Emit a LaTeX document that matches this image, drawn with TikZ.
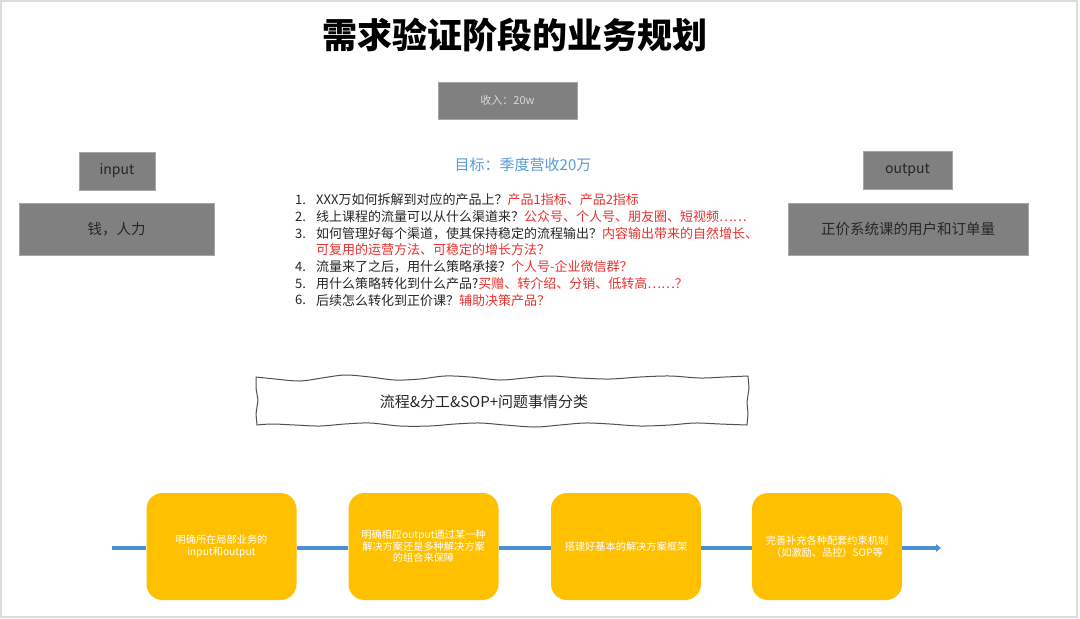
\documentclass[tikz,border=0pt]{standalone}
\usepackage{fontspec}
\setmainfont{Noto Sans CJK SC}
\usetikzlibrary{arrows.meta}
\definecolor{boxgray}{HTML}{808080}
\definecolor{boxedge}{HTML}{A6A6A6}
\definecolor{textdark}{HTML}{262626}
\definecolor{hlred}{HTML}{E8312F}
\definecolor{goalblue}{HTML}{5B9BD5}
\definecolor{lineblue}{HTML}{4A8FD8}
\definecolor{stepyellow}{HTML}{FFC000}
\definecolor{framegray}{HTML}{DCDCDC}
\definecolor{incometext}{HTML}{D9D9D9}
\tikzset{
  graybox/.style={draw=boxedge, fill=boxgray, line width=0.8pt, inner sep=0pt, text=textdark},
  listnum/.style={anchor=west, inner sep=0pt, text=textdark, font=\fontsize{13}{15}\selectfont},
  listline/.style={anchor=west, inner sep=0pt, text=textdark, font=\fontsize{13}{15}\selectfont},
  stepbox/.style={fill=stepyellow, rounded corners=16pt, minimum width=150pt, minimum height=107pt,
    inner sep=0pt, text=white, align=center, font=\fontsize{10.2}{11.5}\selectfont},
  flowline/.style={draw=lineblue, line width=3.8pt},
}
\begin{document}
\begin{tikzpicture}[x=1pt,y=-1pt]
\useasboundingbox (0,0) rectangle (1080,619);
\fill[white] (0,0) rectangle (1080,619);
\draw[framegray, line width=2pt] (1,1) rectangle (1077,617);

% title
\node[font=\fontsize{35}{40}\selectfont\bfseries, text=black, inner sep=0pt] (title) at (515,35) {需求验证阶段的业务规划};

% income box
\node[graybox, minimum width=139pt, minimum height=37pt, text=incometext, font=\fontsize{11}{13}\selectfont] (income) at (507.5,100.5) {收入：20w};

% input / output
\node[graybox, minimum width=76pt, minimum height=38pt, font=\fontsize{14}{16}\selectfont] (input) at (117,171) {input};
\node[graybox, minimum width=195pt, minimum height=52pt, font=\fontsize{14.5}{16}\selectfont] (money) at (116.5,229) {钱，人力};
\node[graybox, minimum width=89pt, minimum height=38pt, font=\fontsize{14}{16}\selectfont] (output) at (907.5,170) {output};
\node[graybox, minimum width=240pt, minimum height=52pt, font=\fontsize{14.5}{16}\selectfont] (result) at (908,229) {正价系统课的用户和订单量};

% goal
\node[text=goalblue, font=\fontsize{15}{18}\selectfont, inner sep=0pt] (goal) at (523,165) {目标：季度营收20万};

% list
\node[listnum] (n1) at (295,199.5) {1.};
\node[listline] (l1) at (316,199.5) {XXX万如何拆解到对应的产品上？\textcolor{hlred}{产品1指标、产品2指标}};
\node[listnum] (n2) at (295,216.5) {2.};
\node[listline] (l2) at (316,216.5) {线上课程的流量可以从什么渠道来？\textcolor{hlred}{公众号、个人号、朋友圈、短视频……}};
\node[listnum] (n3) at (295,233.5) {3.};
\node[listline] (l3) at (316,233.5) {如何管理好每个渠道，使其保持稳定的流程输出？\textcolor{hlred}{内容输出带来的自然增长、}};
\node[listline] (l3b) at (316,250) {\textcolor{hlred}{可复用的运营方法、可稳定的增长方法？}};
\node[listnum] (n4) at (295,266.8) {4.};
\node[listline] (l4) at (316,266.8) {流量来了之后，用什么策略承接？\textcolor{hlred}{个人号-企业微信群？}};
\node[listnum] (n5) at (295,283.5) {5.};
\node[listline] (l5) at (316,283.5) {用什么策略转化到什么产品?\textcolor{hlred}{买赠、转介绍、分销、低转高……？}};
\node[listnum] (n6) at (295,300.3) {6.};
\node[listline] (l6) at (316,300.3) {后续怎么转化到正价课？\textcolor{hlred}{辅助决策产品？}};

% wavy box
\draw[draw=textdark!80, line width=1pt, line join=round]
  plot[smooth, tension=0.55] coordinates {(256,377) (275,379) (300,381) (322,378) (345,375) (370,377) (395,380) (420,379) (445,376) (470,377) (500,380) (525,378) (550,376) (580,378) (610,379) (640,377) (670,376) (700,378) (725,377) (748,376)}
  -- (749,388) -- (747,402) -- (748,414) -- (747,425)
  -- plot[smooth, tension=0.55] coordinates {(747,425) (720,424) (695,423) (670,425) (640,426) (610,424) (585,423) (560,425) (535,427) (505,425) (480,423) (455,424) (430,426) (400,426) (370,423) (345,424) (320,426) (295,425) (272,424) (257,425)}
  -- (256,414) -- (258,400) -- (256,388) -- cycle;
\node[text=textdark, font=\fontsize{15}{18}\selectfont, inner sep=0pt] (flow) at (484,402) {流程\&分工\&SOP+问题事情分类};

% steps
\node[stepbox] (s1) at (221.5,546.5) {明确所在局部业务的\\input和output};
\node[stepbox] (s2) at (423.5,546.5) {明确相应output通过某一种\\解决方案还是多种解决方案\\的组合来保障};
\node[stepbox] (s3) at (626,546.5) {搭建好基本的解决方案框架};
\node[stepbox] (s4) at (827,546.5) {完善补充各种配套约束机制\\（如激励、品控）SOP等};

\coordinate (ls) at (112,548);
\coordinate (le) at (941,548);
\draw[flowline] (ls) -- (s1.west |- ls);
\draw[flowline] (s1.east |- ls) -- (s2.west |- ls);
\draw[flowline] (s2.east |- ls) -- (s3.west |- ls);
\draw[flowline] (s3.east |- ls) -- (s4.west |- ls);
\draw[flowline, -{Triangle[length=5pt,width=7.5pt]}] (s4.east |- ls) -- (le);
\end{tikzpicture}
\end{document}
